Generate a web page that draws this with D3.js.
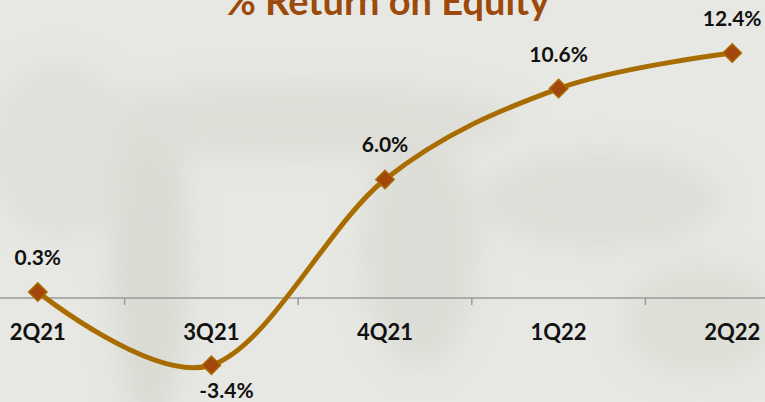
<!DOCTYPE html>
<html><head><meta charset="utf-8">
<script src="https://cdn.jsdelivr.net/npm/d3@7"></script>
<style>html,body{margin:0;padding:0;background:#e7e8e3;}svg{display:block;}</style>
</head><body>
<svg id="chart" width="765" height="402"></svg>
<script>
const categories = ["2Q21", "3Q21", "4Q21", "1Q22", "2Q22"];
const roeValues = [0.3, -3.4, 6.0, 10.6, 12.4];
const valueLabels = ["0.3%", "-3.4%", "6.0%", "10.6%", "12.4%"];
const title = "% Return on Equity";

const W = 765, H = 402;
const svg = d3.select("#chart");
const font = "Lato, 'Open Sans', sans-serif";

// background with faint tree-like texture
const defs = svg.append("defs");
defs.append("filter").attr("id","blur").append("feGaussianBlur").attr("stdDeviation", 14);
svg.append("rect").attr("width", W).attr("height", H).attr("fill", "#e7e8e3");
const bg = svg.append("g").attr("filter","url(#blur)").attr("opacity",0.55);
[[150,260,40,170,"#cfd2c8"],[420,250,60,120,"#d3d6cc"],[300,120,220,40,"#d6d8cf"],[600,200,120,50,"#d5d7ce"],[60,150,70,90,"#d8dad2"],[700,320,80,60,"#d6d9cf"]]
  .forEach(([cx,cy,rx,ry,c])=>bg.append("ellipse").attr("cx",cx).attr("cy",cy).attr("rx",rx).attr("ry",ry).attr("fill",c));

const x = d3.scaleBand().domain(categories).range([-49, 819]).padding(0);
const y = d3.scaleLinear().domain([0, 12.4]).range([298, 53]);
const cx = d => x(d) + x.bandwidth() / 2;

// axis line with ticks at category boundaries
svg.append("line").attr("x1", 0).attr("x2", W).attr("y1", y(0)).attr("y2", y(0))
  .attr("stroke", "#9a9a9a").attr("stroke-width", 1.5);
categories.slice(1).forEach(c => {
  svg.append("line").attr("x1", x(c)).attr("x2", x(c)).attr("y1", y(0)).attr("y2", y(0) + 7)
    .attr("stroke", "#9a9a9a").attr("stroke-width", 1.5);
});

// category labels
svg.append("g").selectAll("text").data(categories).join("text")
  .attr("x", d => cx(d)).attr("y", 340)
  .attr("text-anchor", "middle").attr("font-family", font).attr("font-weight", "bold")
  .attr("font-size", 22).attr("fill", "#111").text(d => d);

// line
const pts = categories.map((c, i) => [cx(c), y(roeValues[i])]);
svg.append("path").datum(pts)
  .attr("d", d3.line().curve(d3.curveCatmullRom.alpha(0)))
  .attr("fill", "none").attr("stroke", "#a86c00").attr("stroke-width", 5);

// diamond markers
svg.append("g").selectAll("path").data(pts).join("path")
  .attr("transform", d => `translate(${d[0]},${d[1]}) rotate(45)`)
  .attr("d", "M-6.5,-6.5H6.5V6.5H-6.5Z")
  .attr("fill", "#a3460c").attr("stroke", "#a86c00").attr("stroke-width", 1.5);

// value labels
svg.append("g").selectAll("text").data(pts).join("text")
  .attr("x", (d, i) => i === 1 ? d[0] + 15 : d[0])
  .attr("y", (d, i) => i === 1 ? d[1] + 33 : d[1] - 27)
  .attr("text-anchor", "middle").attr("font-family", font).attr("font-weight", "bold")
  .attr("font-size", 21).attr("fill", "#111").text((d, i) => valueLabels[i]);

// title (cut off at the top edge, as in the reference)
svg.append("text").attr("x", 387).attr("y", 15).attr("text-anchor", "middle")
  .attr("font-family", font).attr("font-weight", "bold").attr("font-size", 38)
  .attr("fill", "#9c4a0c").text(title);
</script>
</body></html>
